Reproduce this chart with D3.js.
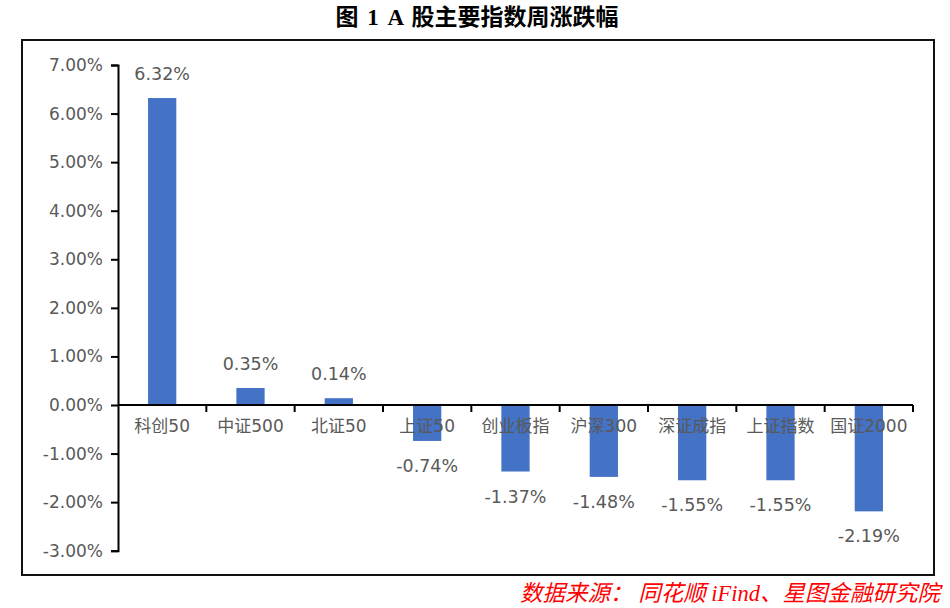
<!DOCTYPE html>
<html>
<head>
<meta charset="utf-8">
<script src="https://cdn.jsdelivr.net/npm/d3@7"></script>
<style>
  body { margin: 0; background: #fff; }
  svg { display: block; }
</style>
</head>
<body>
<script>
// data
let categories = ["科创50", "中证500", "北证50", "上证50", "创业板指", "沪深300", "深证成指", "上证指数", "国证2000"];
let changes = [6.32, 0.35, 0.14, -0.74, -1.37, -1.48, -1.55, -1.55, -2.19];
let yTicks = [7, 6, 5, 4, 3, 2, 1, 0, -1, -2, -3];

let width = 950, height = 608;
let labelColor = "#595959";
let barColor = "#4472C4";
let sans = "'DejaVu Sans', 'Noto Sans CJK SC', sans-serif";
let serif = "'Liberation Serif', 'Noto Sans CJK SC', serif";

let svg = d3.select("body").append("svg")
  .attr("width", width)
  .attr("height", height);

// title
svg.append("text")
  .attr("x", 477)
  .attr("y", 25)
  .attr("text-anchor", "middle")
  .style("font-family", serif)
  .style("font-weight", "bold")
  .style("font-size", "23px")
  .style("word-spacing", "3px")
  .style("fill", "#000")
  .text("图 1 A 股主要指数周涨跌幅");

// frame
svg.append("rect")
  .attr("x", 22)
  .attr("y", 40)
  .attr("width", 912)
  .attr("height", 535)
  .style("fill", "none")
  .style("stroke", "#111")
  .style("stroke-width", 2);

let y = d3.scaleLinear()
  .domain([-3, 7])
  .range([550.7, 65]);

let x = d3.scaleBand()
  .domain(categories)
  .range([118, 913])
  .paddingInner(0.68)
  .paddingOuter(0.34);

// y axis
let yAxis = svg.append("g")
  .attr("transform", "translate(118,0)")
  .call(d3.axisLeft(y).tickValues(yTicks).tickSize(7).tickPadding(8)
    .tickFormat(d => d.toFixed(2) + "%"));
yAxis.select(".domain").style("stroke", "#000").style("stroke-width", 2);
yAxis.selectAll(".tick line").style("stroke", "#000").style("stroke-width", 2);
yAxis.selectAll("text")
  .style("font-family", sans)
  .style("font-size", "17px")
  .style("fill", labelColor);

// bars
svg.selectAll(".bar")
  .data(changes)
  .enter().append("rect")
  .attr("class", "bar")
  .attr("x", (d, i) => x(categories[i]))
  .attr("width", x.bandwidth())
  .attr("y", d => y(Math.max(0, d)))
  .attr("height", d => Math.abs(y(d) - y(0)))
  .style("fill", barColor);

// x axis (line + boundary ticks)
let bandStep = x.step();
let boundaries = d3.range(categories.length + 1).map(i => 118 + i * bandStep);
let xAxis = svg.append("g");
xAxis.append("line")
  .attr("x1", 118).attr("x2", 913)
  .attr("y1", y(0)).attr("y2", y(0))
  .style("stroke", "#000").style("stroke-width", 2);
xAxis.selectAll(".xtick")
  .data(boundaries.slice(1))
  .enter().append("line")
  .attr("class", "xtick")
  .attr("x1", d => d).attr("x2", d => d)
  .attr("y1", y(0)).attr("y2", y(0) + 7)
  .style("stroke", "#000").style("stroke-width", 2);

xAxis.selectAll(".xlabel")
  .data(categories)
  .enter().append("text")
  .attr("class", "xlabel")
  .attr("x", d => x(d) + x.bandwidth() / 2)
  .attr("y", y(0) + 27)
  .attr("text-anchor", "middle")
  .style("font-family", sans)
  .style("font-size", "17px")
  .style("fill", labelColor)
  .text(d => d);

// value labels
svg.selectAll(".value")
  .data(changes)
  .enter().append("text")
  .attr("class", "value")
  .attr("x", (d, i) => x(categories[i]) + x.bandwidth() / 2)
  .attr("y", d => d >= 0 ? y(d) - 18 : y(d) + 31)
  .attr("text-anchor", "middle")
  .style("font-family", sans)
  .style("font-size", "17.5px")
  .style("fill", labelColor)
  .text(d => d.toFixed(2) + "%");

// source
svg.append("text")
  .attr("x", 940)
  .attr("y", 601)
  .attr("text-anchor", "end")
  .style("font-family", serif)
  .style("font-style", "italic")
  .style("font-size", "22.5px")
  .style("fill", "#FF0000")
  .text("数据来源： 同花顺 iFind、星图金融研究院");
</script>
</body>
</html>
